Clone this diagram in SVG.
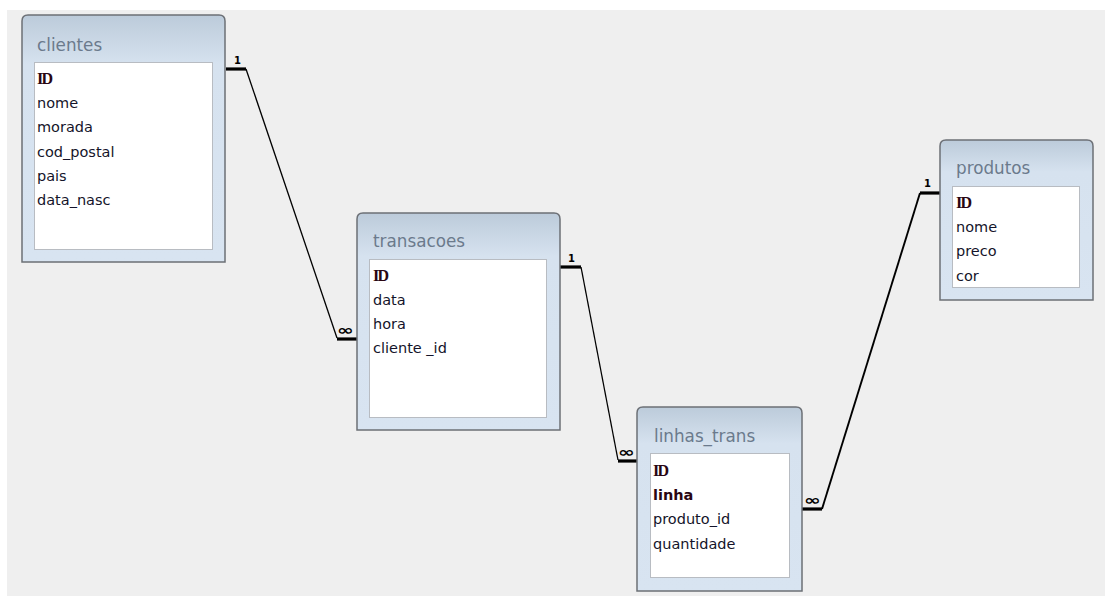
<svg xmlns="http://www.w3.org/2000/svg" width="1105" height="596" viewBox="0 0 1105 596">
<style>
.bg{fill:#efefef}
.box{fill:url(#g);stroke:#6c7076;stroke-width:1.5}
.inner{fill:#fff;stroke:#b8bcc2;stroke-width:1}
.title{font-family:"DejaVu Sans",sans-serif;font-size:16.8px;fill:#6b7a8c}
.f{font-family:"DejaVu Sans",sans-serif;font-size:14.5px;fill:#14142a}
.id{font-family:"Liberation Serif",serif;font-size:16px;font-weight:bold;fill:#2a0612;letter-spacing:-1.8px}
.b{font-family:"DejaVu Sans",sans-serif;font-size:14.5px;font-weight:bold;fill:#2a0612}
.thin{fill:none;stroke:#000;stroke-width:1.3}
.thick{fill:none;stroke:#000;stroke-width:3.2}
.c1{font-family:"DejaVu Sans",sans-serif;font-size:10px;font-weight:bold;fill:#000}
.cm{font-family:"DejaVu Sans",sans-serif;font-size:14px;font-weight:bold;fill:#000}
</style>
<defs>
<linearGradient id="g" x1="0" y1="0" x2="0" y2="1" gradientUnits="objectBoundingBox">
<stop offset="0" stop-color="#bccbda"/>
<stop offset="0.2" stop-color="#d6e2ef"/>
<stop offset="1" stop-color="#d8e4f1"/>
</linearGradient>
</defs>
<rect class="bg" x="7" y="10" width="1098" height="586"/>
<g id="connectors">
<path class="thick" d="M226,69 H246"/>
<path class="thin" d="M246,69 L337,338"/>
<path class="thick" d="M337,339 H357"/>
<text class="c1" x="234" y="64">1</text>
<text class="cm" x="337" y="335" textLength="17" lengthAdjust="spacingAndGlyphs">∞</text>
<path class="thick" d="M560,267 H581"/>
<path class="thin" d="M581,267 L618,460"/>
<path class="thick" d="M618,461 H637"/>
<text class="c1" x="568" y="262">1</text>
<text class="cm" x="618" y="457" textLength="17" lengthAdjust="spacingAndGlyphs">∞</text>
<path class="thick" d="M802,509 H822"/>
<path class="thin" style="stroke-width:1.9" d="M822,509 L920,193"/>
<path class="thick" d="M920,193 H940"/>
<text class="c1" x="924" y="187">1</text>
<text class="cm" x="804" y="505" textLength="17" lengthAdjust="spacingAndGlyphs">∞</text>
</g>
<g id="clientes">
<path class="box" d="M22,262 V21 Q22,15 28,15 H219 Q225,15 225,21 V262 Z"/>
<rect class="inner" x="34.5" y="62.5" width="178" height="187"/>
<text class="title" x="37" y="51">clientes</text>
<text class="id" x="37" y="84">ID</text>
<text class="f" x="37" y="108">nome</text>
<text class="f" x="37" y="132">morada</text>
<text class="f" x="37" y="157">cod_postal</text>
<text class="f" x="37" y="181">pais</text>
<text class="f" x="37" y="205">data_nasc</text>
</g>
<g id="transacoes">
<path class="box" d="M357,430 V219 Q357,213 363,213 H554 Q560,213 560,219 V430 Z"/>
<rect class="inner" x="369.5" y="259.5" width="177" height="158"/>
<text class="title" x="373" y="247">transacoes</text>
<text class="id" x="373" y="281">ID</text>
<text class="f" x="373" y="305">data</text>
<text class="f" x="373" y="329">hora</text>
<text class="f" x="373" y="353">cliente _id</text>
</g>
<g id="linhas_trans">
<path class="box" d="M637,591 V413 Q637,407 643,407 H796 Q802,407 802,413 V591 Z"/>
<rect class="inner" x="650.5" y="453.5" width="139" height="124"/>
<text class="title" x="654" y="442">linhas_trans</text>
<text class="id" x="653" y="476">ID</text>
<text class="b" x="653" y="500">linha</text>
<text class="f" x="653" y="524">produto_id</text>
<text class="f" x="653" y="549">quantidade</text>
</g>
<g id="produtos">
<path class="box" d="M940,300 V146 Q940,140 946,140 H1087 Q1093,140 1093,146 V300 Z"/>
<rect class="inner" x="952.5" y="186.5" width="127" height="101"/>
<text class="title" x="956" y="174">produtos</text>
<text class="id" x="956" y="208">ID</text>
<text class="f" x="956" y="232">nome</text>
<text class="f" x="956" y="256">preco</text>
<text class="f" x="956" y="281">cor</text>
</g>
</svg>
